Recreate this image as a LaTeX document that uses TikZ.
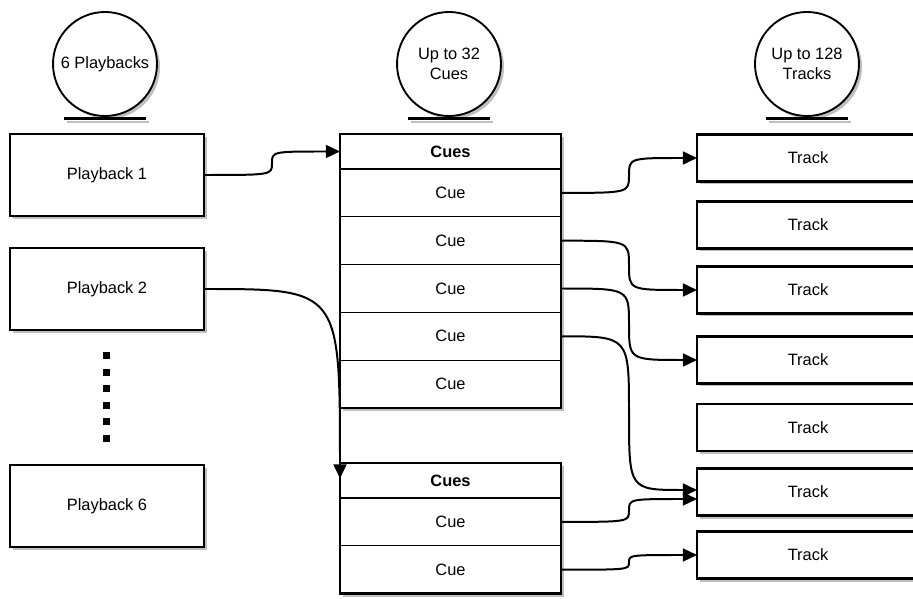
\documentclass[tikz,border=0pt]{standalone}
\usepackage{fontspec}
\setmainfont{Liberation Sans}
\usetikzlibrary{positioning,calc,shadows,arrows.meta}

\begin{document}
\begin{tikzpicture}[x=0.03cm, y=-0.03cm,
        every node/.style={font=\fontsize{14}{17}\selectfont},
        shade box/.style={drop shadow={shadow xshift=0.09cm, shadow yshift=-0.09cm, fill=black!25, opacity=1}},
        box/.style={draw, rectangle, line width=2pt, fill=white, minimum width=5.82cm, minimum height=2.46cm, outer sep=0pt, shade box},
        counter/.style={draw, circle, line width=1.6pt, fill=white, minimum size=3.12cm, inner sep=0pt, align=center, shade box},
        base/.style={line width=2.2pt},
        row/.style={draw, rectangle, line width=0.9pt, fill=white, minimum width=6.63cm, minimum height=1.434cm, inner sep=0pt, outer sep=0pt, shade box},
        head/.style={row, minimum height=1.05cm, font=\fontsize{14}{17}\selectfont\bfseries},
        frame/.style={draw, line width=2pt},
        track/.style={box, minimum width=6.66cm, minimum height=1.41cm},
        arrow/.style={-{Triangle[length=12pt,width=11pt]}, line width=1.7pt},
        sbend/.style={to path={let \p1=(\tikztostart), \p2=(\tikztotarget) in
            .. controls ({0.5*\x1+0.5*\x2},\y1) .. ({0.5*\x1+0.5*\x2},{0.5*\y1+0.5*\y2})
            .. controls ({0.5*\x1+0.5*\x2},\y2) .. (\tikztotarget)}}
    ]
        \useasboundingbox (0,0) rectangle (913,599);

        % Counters
        \node (pbc) [counter] at (105,64) {6 Playbacks};
        \node (cuec) [counter] at (449,64) {Up to 32\\Cues};
        \node (trkc) [counter] at (807,64) {Up to 128\\Tracks};
        \foreach \c in {pbc,cuec,trkc} {
            \draw [base, black!25] ([xshift=-1.14cm,yshift=-0.15cm]\c.south) -- ([xshift=1.32cm,yshift=-0.15cm]\c.south);
            \draw [base] ([xshift=-1.23cm,yshift=-0.05cm]\c.south) -- ([xshift=1.23cm,yshift=-0.05cm]\c.south);
        }

        % Playbacks
        \node (pb1) [box] at (107,175) {Playback 1};
        \node (pb2) [box] at (107,289) {Playback 2};
        \node (pb6) [box] at (107,506) {Playback 6};
        \foreach \i in {0,...,5}
            \fill (106,{356+16.5*\i}) +(-3.5,-3.5) rectangle +(3.5,3.5);

        % Cue list 1
        \node (cuesA) [head] at (450.5,151.5) {Cues};
        \node (cueA1) [row, below=0pt of cuesA] {Cue};
        \node (cueA2) [row, below=0pt of cueA1] {Cue};
        \node (cueA3) [row, below=0pt of cueA2] {Cue};
        \node (cueA4) [row, below=0pt of cueA3] {Cue};
        \node (cueA5) [row, below=0pt of cueA4] {Cue};
        \draw [frame] (cuesA.north west) rectangle (cueA5.south east);

        % Cue list 2
        \node (cuesB) [head] at (450.5,480.5) {Cues};
        \node (cueB1) [row, below=0pt of cuesB] {Cue};
        \node (cueB2) [row, below=0pt of cueB1] {Cue};
        \draw [frame] (cuesB.north west) rectangle (cueB2.south east);

        % Tracks
        \node (trk1) [track] at (808,158) {Track};
        \node (trk2) [track] at (808,225) {Track};
        \node (trk3) [track] at (808,290) {Track};
        \node (trk4) [track] at (808,360) {Track};
        \node (trk5) [track] at (808,427.5) {Track};
        \node (trk6) [track] at (808,492) {Track};
        \node (trk7) [track] at (808,555) {Track};

        % Links
        \draw [arrow] (pb1.east) to[sbend] (cuesA.west);
        \draw [arrow] (pb2.east) .. controls (pb2.east -| cuesB.west) .. ([yshift=0.06cm]cuesB.west);
        \draw [arrow] (cueA1.east) to[sbend] (trk1.west);
        \draw [arrow] (cueA2.east) to[sbend] (trk3.west);
        \draw [arrow] (cueA3.east) to[sbend] (trk4.west);
        \draw [arrow] (cueA4.east) to[sbend] ([yshift=0.06cm]trk6.west);
        \draw [arrow] (cueB1.east) to[sbend] ([yshift=-0.21cm]trk6.west);
        \draw [arrow] (cueB2.east) to[sbend] (trk7.west);
    \end{tikzpicture}
\end{document}
